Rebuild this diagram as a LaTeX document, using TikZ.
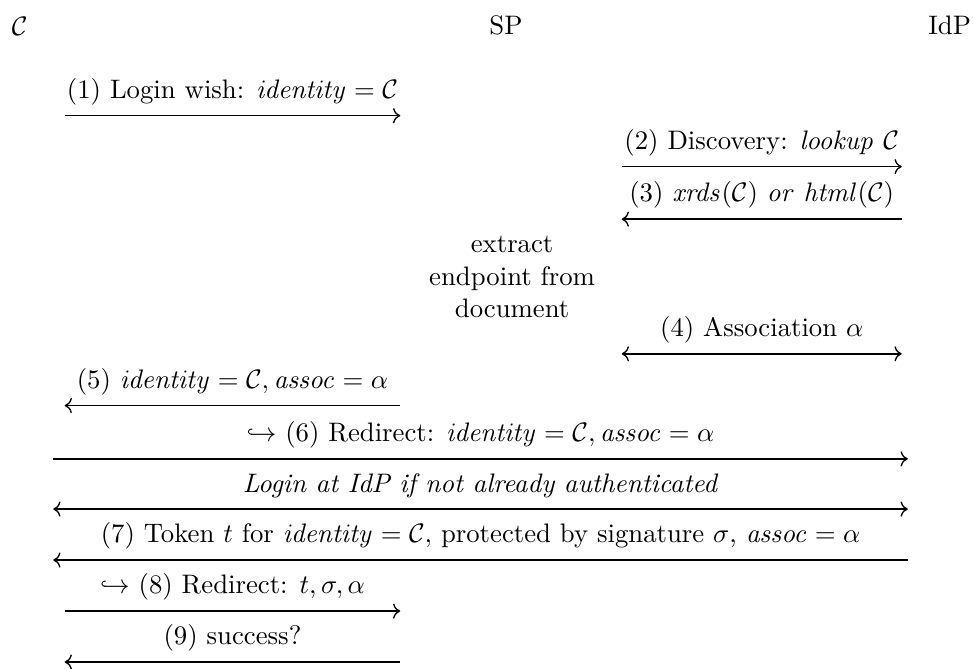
\documentclass[tikz,border=0pt]{standalone}
\usepackage{amsmath}
\usetikzlibrary{arrows.meta}
\begin{document}
\begin{tikzpicture}[>={Computer Modern Rightarrow}, line width=0.5pt,
    msg/.style={above, inner sep=3.8pt}]

\useasboundingbox (0, 0) rectangle (12.80, -8.78);

% Parties
\node (c) at (0.26, -0.34) {$\mathcal{C}$};
\node (sp) at (6.65, -0.34) {SP};
\node (idp) at (12.48, -0.34) {IdP};

% End points of the messages
\coordinate (c1) at (0.85, -1.52);  \coordinate (s1) at (5.26, -1.52);
\coordinate (s2) at (8.17, -2.19);  \coordinate (i2) at (11.85, -2.19);
\coordinate (s3) at (8.17, -2.88);  \coordinate (i3) at (11.85, -2.88);
\coordinate (s4) at (8.17, -4.65);  \coordinate (i4) at (11.85, -4.65);
\coordinate (c5) at (0.85, -5.33);  \coordinate (s5) at (5.26, -5.33);
\coordinate (c6) at (0.70, -6.03);  \coordinate (i6) at (11.93, -6.03);
\coordinate (cl) at (0.70, -6.69);  \coordinate (il) at (11.93, -6.69);
\coordinate (c7) at (0.70, -7.36);  \coordinate (i7) at (11.93, -7.36);
\coordinate (c8) at (0.85, -8.03);  \coordinate (s8) at (5.26, -8.03);
\coordinate (c9) at (0.85, -8.70);  \coordinate (s9) at (5.26, -8.70);

% Local step at SP
\node[align=center] (extract) at (6.73, -3.64) {extract\\endpoint from\\document};

% Messages
\draw[->] (c1) -- node[msg] {(1) Login wish: $\mathit{identity} = \mathcal{C}$} (s1);
\draw[->] (s2) -- node[msg] {(2) Discovery: $\mathit{lookup}\ \mathcal{C}$} (i2);
\draw[<-] (s3) -- node[msg] {(3) $\mathit{xrds}(\mathcal{C})\ \mathit{or}\ \mathit{html}(\mathcal{C})$} (i3);
\draw[<->] (s4) -- node[msg] {(4) Association $\alpha$} (i4);
\draw[<-] (c5) -- node[msg] {(5) $\mathit{identity} = \mathcal{C}, \mathit{assoc} = \alpha$} (s5);
\draw[->] (c6) -- node[msg] {$\hookrightarrow$ (6) Redirect: $\mathit{identity} = \mathcal{C}, \mathit{assoc} = \alpha$} (i6);
\draw[<->] (cl) -- node[msg] {\textit{Login at IdP if not already authenticated}} (il);
\draw[<-] (c7) -- node[msg] {(7) Token $t$ for $\mathit{identity} = \mathcal{C},$ protected by signature $\sigma$, $\mathit{assoc} = \alpha$} (i7);
\draw[->] (c8) -- node[msg] {$\hookrightarrow$ (8) Redirect: $t, \sigma, \alpha$} (s8);
\draw[<-] (c9) -- node[msg] {(9) success?} (s9);

\end{tikzpicture}
\end{document}
